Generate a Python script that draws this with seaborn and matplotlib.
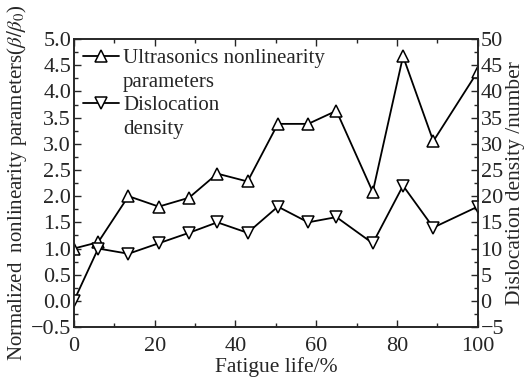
import numpy as np
import pandas as pd
import matplotlib.pyplot as plt
import seaborn as sns
from matplotlib.ticker import MultipleLocator
from matplotlib.lines import Line2D

fatigue_life = [0, 6, 13.5, 21, 28.5, 35.5, 43, 50.5, 58, 65, 74, 81.5, 89, 100]
nonlinearity = [1.0, 1.12, 2.0, 1.8, 1.97, 2.43, 2.28, 3.38, 3.38, 3.63, 2.08, 4.67, 3.05, 4.38]
dislocation = [0, 10, 9, 11, 13, 15, 13, 18, 15, 16, 11, 22, 14, 18]

df = pd.DataFrame({'life': fatigue_life, 'beta': nonlinearity, 'disl': dislocation})

sns.set_style('ticks')
plt.rcParams['font.family'] = ['Liberation Serif', 'DejaVu Serif']
plt.rcParams['mathtext.fontset'] = 'stix'

fig = plt.figure(figsize=(5.32, 3.79), dpi=100)
ax = fig.add_axes([0.139, 0.137, 0.759, 0.76])
ax2 = ax.twinx()

sns.lineplot(data=df, x='life', y='beta', ax=ax, color='black', lw=1.3,
             marker='^', markersize=9, markerfacecolor='white',
             markeredgecolor='black', markeredgewidth=1.1)
sns.lineplot(data=df, x='life', y='disl', ax=ax2, color='black', lw=1.3,
             marker='v', markersize=9, markerfacecolor='white',
             markeredgecolor='black', markeredgewidth=1.1)

ax.set_xlim(0, 100)
ax.set_ylim(-0.5, 5.0)
ax2.set_ylim(-5, 50)
ax.xaxis.set_major_locator(MultipleLocator(20))
ax.xaxis.set_minor_locator(MultipleLocator(10))
ax.yaxis.set_major_locator(MultipleLocator(0.5))
ax.yaxis.set_minor_locator(MultipleLocator(0.25))
ax2.yaxis.set_major_locator(MultipleLocator(5))
ax2.yaxis.set_minor_locator(MultipleLocator(2.5))

ax.tick_params(which='both', direction='in', top=True, right=False, labelsize=16, width=1, pad=2)
ax.tick_params(axis='x', pad=7)
ax.tick_params(which='major', length=5)
ax.tick_params(which='minor', length=3)
ax2.tick_params(which='both', direction='in', labelsize=16, width=1, pad=2)
ax2.tick_params(which='major', length=5)
ax2.tick_params(which='minor', length=3)
for a in (ax, ax2):
    for s in a.spines.values():
        s.set_linewidth(1.2)

ax.set_xlabel('Fatigue life/%', fontsize=15.5, labelpad=1)
ax.set_ylabel(r'Normalized  nonlinearity parameters($\beta/\beta_0$)', fontsize=15, labelpad=1)
ax2.set_ylabel('Dislocation density /number', fontsize=15.5, labelpad=1)

h1 = ax.get_lines()[0]
h2 = ax2.get_lines()[0]
blank = Line2D([], [], linestyle='none', marker='none')
ax.legend([h1, blank, h2, blank],
          ['Ultrasonics nonlinearity', 'parameters', 'Dislocation', 'density'],
          loc='upper left', frameon=False, fontsize=15, handlelength=1.7,
          handletextpad=0.2, borderaxespad=0.35, labelspacing=0.2, borderpad=0.1)

fig.savefig('out.png', dpi=100)
